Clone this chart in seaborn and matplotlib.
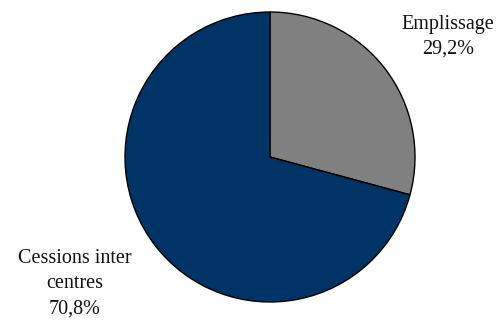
import seaborn as sns
import matplotlib.pyplot as plt

# pie data
labels = ['Emplissage', 'Cessions inter\ncentres']
values = [29.2, 70.8]
pct_text = ['29,2%', '70,8%']
colors = ['#808080', '#003366']

sns.set_style('white')
plt.rcParams['font.family'] = ['Liberation Serif', 'DejaVu Serif']

fig = plt.figure(figsize=(4.96, 3.25), dpi=100)
ax = fig.add_axes([0, 0, 1, 1])

wedges, _ = ax.pie(values, colors=colors, startangle=90, counterclock=False,
                   radius=1.0, center=(0, 0),
                   wedgeprops=dict(edgecolor='black', linewidth=1.0))

# label positions beside the slices
label_pos = [(1.225, 0.83), (-1.345, -0.875)]
for lab, pct, (x, y) in zip(labels, pct_text, label_pos):
    ax.text(x, y, lab + '\n' + pct, ha='center', va='center',
            fontsize=14.5, linespacing=1.45, color='#111111')

ax.set_xlim(-270 / 145, 226 / 145)
ax.set_ylim(-168 / 145, 157 / 145)
ax.set_aspect('equal')
ax.axis('off')

fig.savefig('out.png', dpi=100)
